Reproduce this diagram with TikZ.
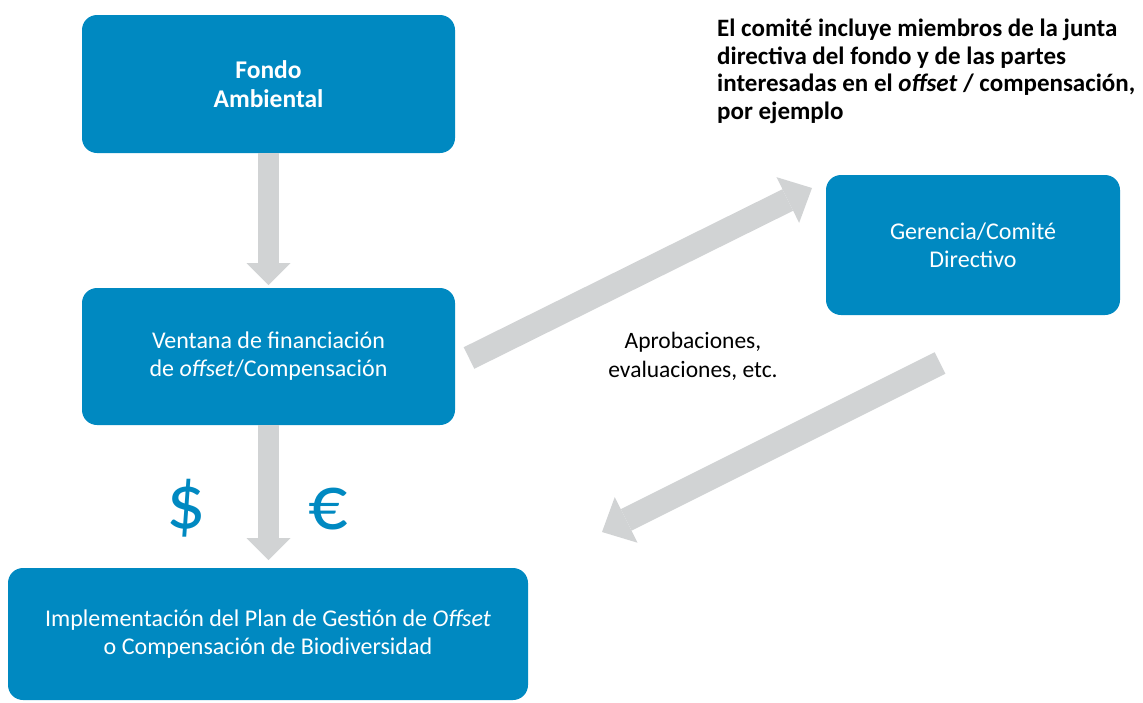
\documentclass[tikz,border=0pt]{standalone}
\usepackage{fontspec}
\setmainfont{Carlito}
\usetikzlibrary{arrows.meta}
\definecolor{boxblue}{RGB}{0,137,193}
\definecolor{arrowgray}{RGB}{209,211,212}
\begin{document}
\begin{tikzpicture}[x=1pt,y=-1pt,
  box/.style={fill=boxblue, rounded corners=15pt, text=white, align=center, inner sep=0pt,
    font=\fontsize{24}{28}\selectfont},
  boldbox/.style={box, font=\bfseries\fontsize{25.5}{29}\selectfont},
  garrow/.style={draw=arrowgray, line width=21pt,
    -{Triangle[width=44pt,length=22pt,line width=0pt]}},
  darrow/.style={draw=arrowgray, line width=24pt,
    -{Triangle[width=51pt,length=27pt,line width=0pt]}},
  plain/.style={align=center, inner sep=0pt, font=\fontsize{23.5}{29}\selectfont},
  note/.style={align=left, inner sep=0pt, font=\bfseries\fontsize{25}{27.5}\selectfont},
  money/.style={text=boxblue, inner sep=0pt, font=\fontsize{78}{78}\selectfont}]
\useasboundingbox (0,0) rectangle (1143,702);

\node[boldbox, minimum width=373pt, minimum height=138pt] (fondo) at (268.5,84) {Fondo\\Ambiental};
\node[box, minimum width=373pt, minimum height=137pt] (ventana) at (268.5,356.5)
  {Ventana de financiación\\de \textit{offset}/Compensación};
\node[box, minimum width=294pt, minimum height=140pt] (gerencia) at (973,245)
  {Gerencia/Comité\\Directivo};
\node[box, minimum width=520pt, minimum height=132pt] (impl) at (268,634)
  {Implementación del Plan de Gestión de \textit{Offset}\\o Compensación de Biodiversidad};

\node[note, anchor=north west] (nota) at (717,19)
  {El comité incluye miembros de la junta\\
   directiva del fondo y de las partes\\
   interesadas en el \textit{offset} / compensación,\\
   por ejemplo};

\node[plain] (aprob) at (693,356) {Aprobaciones,\\evaluaciones, etc.};

\node[money] (dollar) at (186,508) {\$};
\node[money] (euro) at (328,509) {€};

\coordinate (a1e) at (268.5,285);
\coordinate (a2e) at (268.5,560);
\coordinate (d1s) at (469,358);
\coordinate (d1e) at (812,188);
\coordinate (d2s) at (940,363);
\coordinate (d2e) at (602,532);

\draw[garrow] (fondo.south) -- (a1e);
\draw[garrow] (ventana.south) -- (a2e);
\draw[darrow] (d1s) -- (d1e);
\draw[darrow] (d2s) -- (d2e);
\end{tikzpicture}
\end{document}
